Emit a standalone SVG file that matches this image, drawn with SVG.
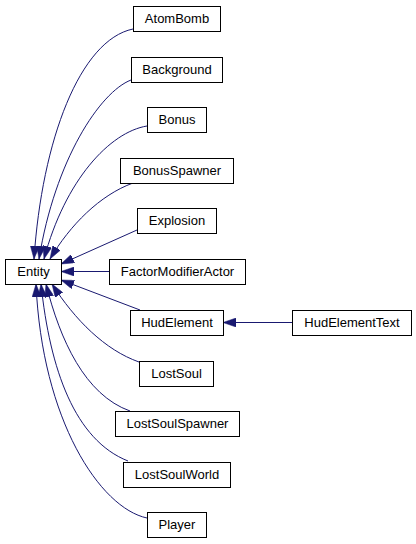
<svg xmlns="http://www.w3.org/2000/svg" width="416" height="544" viewBox="0 0 416 544">
<defs>
<marker id="ah" viewBox="0 0 13 9" refX="13" refY="4.5" markerWidth="13" markerHeight="9" markerUnits="userSpaceOnUse" orient="auto">
<path d="M0,0 L13,4.5 L0,9 z" fill="#191970" stroke="#191970" stroke-width="0.5"/>
</marker>
</defs>
<style>
.n rect{fill:#fff;stroke:#000;stroke-width:1}
.n text{font-family:"Liberation Sans",Arial,sans-serif;font-size:13px;fill:#000;text-anchor:middle}
#edges path{fill:none;stroke:#191970;stroke-width:1;marker-end:url(#ah)}
</style>
<rect width="416" height="544" fill="#fff"/>
<g id="edges">
<path d="M133,29 C80,40 42,140 34,259"/>
<path d="M131,80 C100,92 55,160 39,259"/>
<path d="M147,126 C110,132 65,180 44,259"/>
<path d="M133,183 C100,195 70,225 50,259"/>
<path d="M137,230 L61,264"/>
<path d="M109,271.5 L61,271.5"/>
<path d="M140,310 L61,280"/>
<path d="M139,362 C105,350 75,320 52,284"/>
<path d="M130,411 C85,395 60,340 46,284"/>
<path d="M128,461 C75,440 50,370 41,284"/>
<path d="M147,518 C100,508 42,420 36,284"/>
<path d="M292,322.5 L223,322.5"/>
</g>
<g id="AtomBomb" class="n"><rect x="133.5" y="6.5" width="87" height="25"/><text x="177" y="23">AtomBomb</text></g>
<g id="Background" class="n"><rect x="131.5" y="57.5" width="91" height="25"/><text x="177" y="74">Background</text></g>
<g id="Bonus" class="n"><rect x="147.5" y="107.5" width="59" height="25"/><text x="177" y="124">Bonus</text></g>
<g id="BonusSpawner" class="n"><rect x="120.5" y="158.5" width="113" height="25"/><text x="177" y="175">BonusSpawner</text></g>
<g id="Explosion" class="n"><rect x="137.5" y="208.5" width="79" height="25"/><text x="177" y="225">Explosion</text></g>
<g id="Entity" class="n"><rect x="5.5" y="259.5" width="56" height="25"/><text x="33.5" y="276">Entity</text></g>
<g id="FactorModifierActor" class="n"><rect x="109.5" y="259.5" width="136" height="25"/><text x="177.5" y="276">FactorModifierActor</text></g>
<g id="HudElement" class="n"><rect x="130.5" y="310.5" width="93" height="25"/><text x="177" y="327">HudElement</text></g>
<g id="HudElementText" class="n"><rect x="292.5" y="310.5" width="119" height="25"/><text x="352" y="327">HudElementText</text></g>
<g id="LostSoul" class="n"><rect x="139.5" y="361.5" width="74" height="25"/><text x="176.5" y="378">LostSoul</text></g>
<g id="LostSoulSpawner" class="n"><rect x="115.5" y="411.5" width="124" height="25"/><text x="177.5" y="428">LostSoulSpawner</text></g>
<g id="LostSoulWorld" class="n"><rect x="123.5" y="462.5" width="107" height="25"/><text x="177" y="479">LostSoulWorld</text></g>
<g id="Player" class="n"><rect x="147.5" y="512.5" width="59" height="25"/><text x="177" y="529">Player</text></g>
</svg>
